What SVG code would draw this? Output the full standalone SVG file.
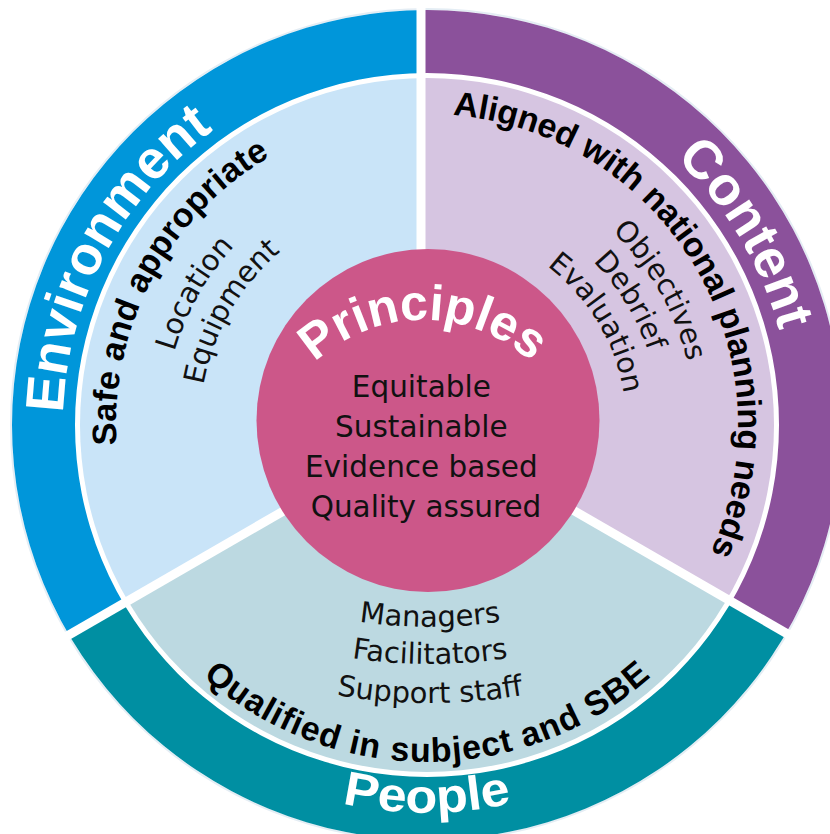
<svg xmlns="http://www.w3.org/2000/svg" width="830" height="834" viewBox="0 0 830 834">
<style>
.lbl{font-family:"Liberation Sans",Arial,sans-serif;font-weight:bold;fill:#fff;font-size:54px}
.bold{font-family:"Liberation Sans",Arial,sans-serif;font-weight:bold;fill:#000;font-size:34px}
.reg{font-family:"DejaVu Sans",sans-serif;fill:#111;font-size:29px}
.div{stroke:#fff;stroke-width:9;fill:none}
</style>
<defs>
<clipPath id="ring"><path clip-rule="evenodd" d="M12,425a415,415 0 1,0 830,0a415,415 0 1,0 -830,0ZM75,425a352,352 0 1,0 704,0a352,352 0 1,0 -704,0Z"/></clipPath>
<clipPath id="core"><circle cx="427" cy="425" r="347"/></clipPath>
<path id="pEnv" d="M228.8,730.3A364,364 0 0 1 569.2,89.9"/>
<path id="pCon" d="M267.4,97.8A364,364 0 0 1 641.0,719.5"/>
<path id="pSafe" d="M257.6,685.8A311,311 0 0 1 548.5,138.7"/>
<path id="pAli" d="M293.1,144.3A311,311 0 0 1 607.6,678.2"/>
<path id="pLoc" d="M278.0,641.7A263,263 0 0 1 536.1,185.7"/>
<path id="pEqu" d="M296.8,611.0A227,227 0 0 1 522.9,219.3"/>
<path id="pObj" d="M313.7,182.1A268,268 0 0 1 580.7,644.5"/>
<path id="pDeb" d="M323.0,216.5A233,233 0 0 1 565.6,612.3"/>
<path id="pEva" d="M339.8,246.1A199,199 0 0 1 544.0,586.0"/>
<path id="pPeo" d="M40.5,458.8A388,388 0 0 0 813.5,458.8"/>
<path id="pQua" d="M91.3,454.4A337,337 0 0 0 762.7,454.4"/>
<path id="pMan" d="M-47,150A477,477 0 0 0 907,150"/>
<path id="pFac" d="M-84,150A514,514 0 0 0 944,150"/>
<path id="pSup" d="M-123,150A553,553 0 0 0 983,150"/>
<path id="pPri" d="M264.6,465.1A159,159 0 0 1 581.4,465.1"/>
</defs>
<rect width="830" height="834" fill="#fff"/>
<circle cx="427" cy="425" r="416" fill="none" stroke="#e4edf4" stroke-width="2"/>

<g id="environment">
<polygon points="421,-20 421,427 429,427 -90.6,727 -100,-20" fill="#0096DA" clip-path="url(#ring)"/>
<polygon points="421,-20 421,427 429,427 -90.6,727 -100,-20" fill="#C9E4F8" clip-path="url(#core)"/>
<text class="lbl"><textPath href="#pEnv" startOffset="50%" text-anchor="middle" textLength="332">Environment</textPath></text>
<text class="bold"><textPath href="#pSafe" startOffset="50%" text-anchor="middle" textLength="344">Safe and appropriate</textPath></text>
<text class="reg"><textPath href="#pLoc" startOffset="50%" text-anchor="middle">Location</textPath></text>
<text class="reg"><textPath href="#pEqu" startOffset="50%" text-anchor="middle">Equipment</textPath></text>
</g>

<g id="content">
<polygon points="421,-20 421,427 429,427 948.6,727 960,-20" fill="#8B519B" clip-path="url(#ring)"/>
<polygon points="421,-20 421,427 429,427 948.6,727 960,-20" fill="#D6C5E1" clip-path="url(#core)"/>
<text class="lbl"><textPath href="#pCon" startOffset="50%" text-anchor="middle">Content</textPath></text>
<text class="bold"><textPath href="#pAli" startOffset="50%" text-anchor="middle" textLength="594">Aligned with national planning needs</textPath></text>
<text class="reg"><textPath href="#pObj" startOffset="50%" text-anchor="middle">Objectives</textPath></text>
<text class="reg"><textPath href="#pDeb" startOffset="50%" text-anchor="middle">Debrief</textPath></text>
<text class="reg"><textPath href="#pEva" startOffset="50%" text-anchor="middle">Evaluation</textPath></text>
</g>

<g id="people">
<polygon points="429,427 -90.6,727 -100,900 960,900 948.6,727" fill="#008FA2" clip-path="url(#ring)"/>
<polygon points="429,427 -90.6,727 -100,900 960,900 948.6,727" fill="#BCD9E1" clip-path="url(#core)"/>
<text class="lbl" style="font-size:48px"><textPath href="#pPeo" startOffset="50%" text-anchor="middle" textLength="171" lengthAdjust="spacingAndGlyphs">People</textPath></text>
<text class="bold"><textPath href="#pQua" startOffset="50%" text-anchor="middle" textLength="490">Qualified in subject and SBE</textPath></text>
<text class="reg"><textPath href="#pMan" startOffset="50%" text-anchor="middle">Managers</textPath></text>
<text class="reg"><textPath href="#pFac" startOffset="50%" text-anchor="middle">Facilitators</textPath></text>
<text class="reg"><textPath href="#pSup" startOffset="50%" text-anchor="middle">Support staff</textPath></text>
</g>

<g id="connectors">
<path class="div" d="M421,0L421,432"/>
<path class="div" d="M429,427L-90.6,727"/>
<path class="div" d="M429,427L948.6,727"/>
</g>

<g id="principles">
<circle cx="428" cy="420.5" r="171.5" fill="#CC5789"/>
<text class="lbl" style="font-size:50px"><textPath href="#pPri" startOffset="50%" text-anchor="middle" textLength="238">Principles</textPath></text>
<text class="reg" text-anchor="middle" style="font-size:29.5px" x="426">
<tspan x="426" y="397">Equitable</tspan>
<tspan x="426" y="437">Sustainable</tspan>
<tspan x="426" y="477">Evidence based</tspan>
<tspan x="426" y="517">Quality assured</tspan>
</text>
</g>
</svg>
